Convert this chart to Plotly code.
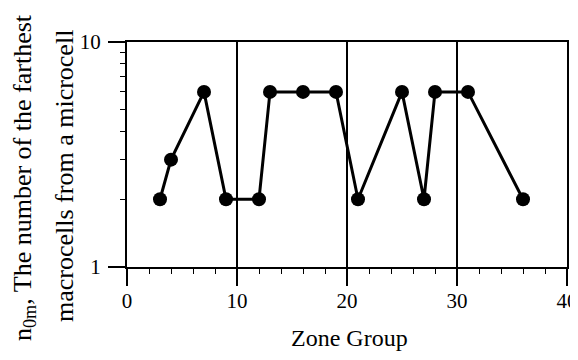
import plotly.graph_objects as go

zone_group = [3, 4, 7, 9, 12, 13, 16, 19, 21, 25, 27, 28, 31, 36]
n0m = [2, 3, 6, 2, 2, 6, 6, 6, 2, 6, 2, 6, 6, 2]

x_ticks = [0, 10, 20, 30, 40]
y_ticks = [1, 10]
y_title_lines = ["n<sub>0m</sub>, The number of the farthest", "macrocells from a microcell"]
x_title = "Zone Group"

FAM = "Liberation Serif, Times New Roman, serif"
tick_font = dict(family=FAM, color="black", size=21)
title_font = dict(family=FAM, color="black", size=24)
ytitle_font = dict(family=FAM, color="black", size=26)

# page body has an 8px margin, so the figure is shifted by (8, 8)
OFF = 8
W, H = 578 - OFF, 360 - OFF
L, R, T, B = 127 - OFF, 11, 42 - OFF, 93
pw, ph = W - L - R, H - T - B

def px_to_paper_x(px):
    return (px - OFF - L) / pw

def px_to_paper_y(py):
    return (H - B - (py - OFF)) / ph

fig = go.Figure()
fig.add_trace(go.Scatter(
    x=zone_group, y=n0m, mode="lines+markers",
    line=dict(color="black", width=3),
    marker=dict(color="black", size=14),
    showlegend=False, cliponaxis=False,
))

fig.update_layout(
    width=W, height=H,
    margin=dict(l=L, r=R, t=T, b=B, autoexpand=False),
    paper_bgcolor="white", plot_bgcolor="white",
    font=tick_font,
)
fig.update_xaxes(
    range=[0, 40], tickvals=x_ticks, ticktext=[str(v) for v in x_ticks],
    showgrid=True, gridcolor="black", gridwidth=1.5,
    showline=True, linecolor="black", linewidth=2, mirror=True,
    ticks="outside", ticklen=17, tickwidth=2, tickcolor="black",
    minor=dict(dtick=2, ticks="outside", ticklen=5, tickwidth=1, tickcolor="black", showgrid=False),
    zeroline=False, automargin=False, tickfont=tick_font, ticklabelstandoff=-3,
)
fig.update_yaxes(
    type="log", range=[0, 1], tickvals=y_ticks, ticktext=[str(v) for v in y_ticks],
    showgrid=False,
    showline=True, linecolor="black", linewidth=2, mirror=True,
    ticks="outside", ticklen=17, tickwidth=2, tickcolor="black",
    minor=dict(tickvals=[2, 3, 4, 5, 6, 7, 8, 9], ticks="outside", ticklen=5, tickwidth=1,
               tickcolor="black", showgrid=False),
    zeroline=False, automargin=False, tickfont=tick_font, ticklabelstandoff=3,
)

fig.add_annotation(text=x_title, xref="paper", yref="paper",
                   x=px_to_paper_x(349), y=px_to_paper_y(338),
                   xanchor="center", yanchor="middle", showarrow=False, font=title_font)
for line, cx, cy in zip(y_title_lines, [24, 64], [178, 176]):
    fig.add_annotation(text=line, xref="paper", yref="paper",
                       x=px_to_paper_x(cx), y=px_to_paper_y(cy),
                       xanchor="center", yanchor="middle", textangle=-90,
                       showarrow=False, font=ytitle_font)

fig.write_html("out.html")
